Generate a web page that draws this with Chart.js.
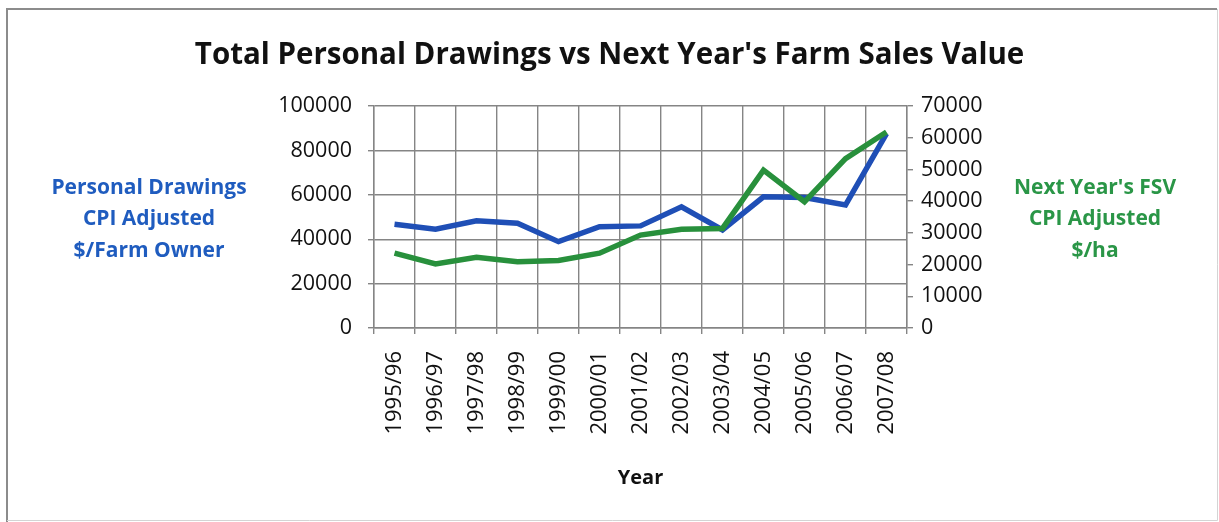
<!DOCTYPE html>
<html lang="en">
<head>
    <meta charset="UTF-8">
    <title>Total Personal Drawings vs Next Year's Farm Sales Value</title>
    <style>
        html, body { margin: 0; padding: 0; background: #fff; }
        #wrap { position: relative; width: 1219px; height: 522px; }
    </style>
</head>
<body>
    <div id="wrap">
        <canvas id="chart" width="1219" height="522"></canvas>
    </div>

    <script src="https://cdn.jsdelivr.net/npm/chart.js"></script>
    <script>
        const years = ['1995/96', '1996/97', '1997/98', '1998/99', '1999/00', '2000/01', '2001/02',
                       '2002/03', '2003/04', '2004/05', '2005/06', '2006/07', '2007/08'];
        // $/farm owner, CPI adjusted (left axis)
        const drawings = [46700, 44500, 48300, 47200, 38900, 45600, 46000, 54600, 44200, 59100, 58800, 55400, 87600];
        // next year's farm sales value, $/ha, CPI adjusted (right axis)
        const nextFsv = [23600, 20200, 22300, 20900, 21300, 23600, 29300, 31100, 31400, 49800, 39800, 53400, 61800];

        const leftTitle = ['Personal Drawings', 'CPI Adjusted', '$/Farm Owner'];
        const rightTitle = ["Next Year's FSV", 'CPI Adjusted', '$/ha'];

        const FONT = "'Open Sans', 'DejaVu Sans', sans-serif";
        const gridColor = '#858585';

        // frame + the two side captions
        const sideText = {
            id: 'sideText',
            beforeDraw(chart) {
                const c = chart.ctx;
                c.save();
                c.fillStyle = '#fff';
                c.fillRect(0, 0, chart.width, chart.height);
                c.strokeStyle = '#8c8c8c';
                c.lineWidth = 2;
                c.beginPath();
                c.moveTo(7, 522);
                c.lineTo(7, 9);
                c.lineTo(1217, 9);
                c.stroke();
                c.strokeStyle = '#d4d4d4';
                c.lineWidth = 1;
                c.beginPath();
                c.moveTo(1217.5, 9);
                c.lineTo(1217.5, 520.5);
                c.lineTo(7, 520.5);
                c.stroke();
                c.restore();
            },
            afterDraw(chart) {
                const c = chart.ctx;
                c.save();
                c.font = 'bold 21px ' + FONT;
                c.textAlign = 'center';
                c.textBaseline = 'middle';
                c.fillStyle = '#1f5cbf';
                leftTitle.forEach((t, i) => c.fillText(t, 149, 188 + i * 31.5));
                c.fillStyle = '#2a9647';
                rightTitle.forEach((t, i) => c.fillText(t, 1095, 188 + i * 31.5));
                c.restore();
            }
        };

        const plain = v => String(v);

        const ctx = document.getElementById('chart').getContext('2d');
        const myChart = new Chart(ctx, {
            type: 'line',
            data: {
                labels: years,
                datasets: [
                    {
                        label: "Next Year's FSV",
                        data: nextFsv,
                        yAxisID: 'y1',
                        borderColor: '#28903c',
                        borderWidth: 5.5,
                        pointRadius: 0,
                        tension: 0,
                        order: 0
                    },
                    {
                        label: 'Personal Drawings',
                        data: drawings,
                        yAxisID: 'y',
                        borderColor: '#1f4fb6',
                        borderWidth: 5.5,
                        pointRadius: 0,
                        tension: 0,
                        order: 1
                    }
                ]
            },
            options: {
                responsive: false,
                animation: false,
                layout: { padding: 0 },
                plugins: {
                    legend: { display: false },
                    tooltip: { enabled: false },
                    title: {
                        display: true,
                        text: "Total Personal Drawings vs Next Year's Farm Sales Value",
                        color: '#111',
                        font: { family: FONT, size: 29.5, weight: 'bold', lineHeight: 1.2 },
                        padding: { top: 38, bottom: 32.6 }
                    }
                },
                scales: {
                    x: {
                        offset: true,
                        grid: { offset: true, color: gridColor, lineWidth: 1.4, tickLength: 6 },
                        border: { color: gridColor, width: 1.4 },
                        ticks: {
                            autoSkip: false,
                            minRotation: 90,
                            maxRotation: 90,
                            padding: 17,
                            color: '#111',
                            font: { family: FONT, size: 22 }
                        },
                        title: {
                            display: true,
                            text: 'Year',
                            color: '#111',
                            font: { family: FONT, size: 20, weight: 'bold', lineHeight: 1.2 },
                            padding: { top: 0, bottom: 32 }
                        },
                        afterFit(scale) { scale.height = 194; }
                    },
                    y: {
                        position: 'left',
                        min: 0,
                        max: 100000,
                        ticks: {
                            stepSize: 20000,
                            padding: 16,
                            color: '#111',
                            font: { family: FONT, size: 21.5 },
                            callback: plain
                        },
                        grid: { color: gridColor, lineWidth: 1.4, tickLength: 6 },
                        border: { color: gridColor, width: 1.4 },
                        afterFit(scale) { scale.width = 374; }
                    },
                    y1: {
                        position: 'right',
                        min: 0,
                        max: 70000,
                        ticks: {
                            stepSize: 10000,
                            padding: 8,
                            color: '#111',
                            font: { family: FONT, size: 21.5 },
                            callback: plain
                        },
                        grid: { drawOnChartArea: false, color: gridColor, lineWidth: 1.4, tickLength: 6 },
                        border: { color: gridColor, width: 1.4 },
                        afterFit(scale) { scale.width = 312; }
                    }
                }
            },
            plugins: [sideText]
        });
    </script>
</body>
</html>
